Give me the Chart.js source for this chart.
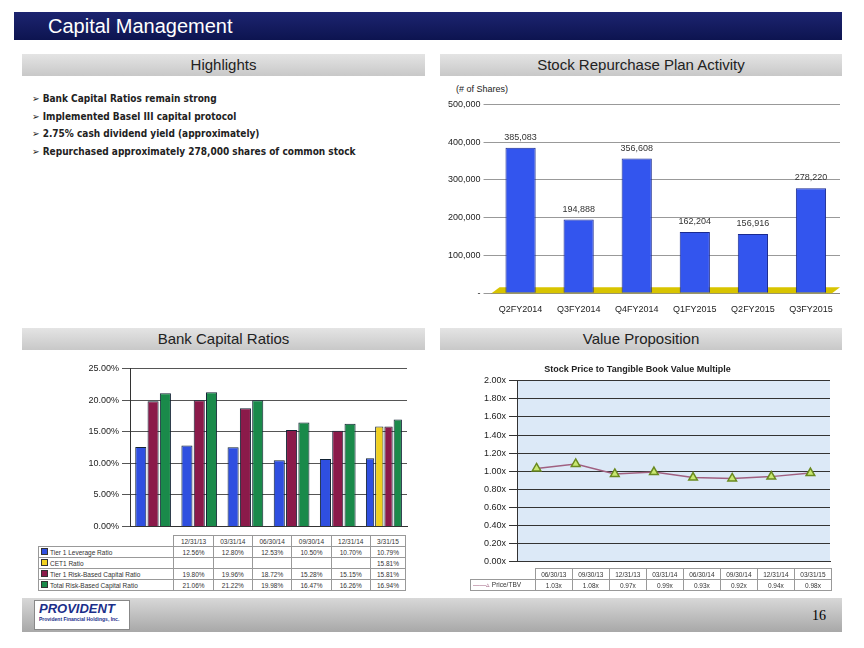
<!DOCTYPE html>
<html><head><meta charset="utf-8">
<script src="https://cdn.jsdelivr.net/npm/chart.js@4"></script>
<style>
body{margin:0;width:864px;height:648px;position:relative;background:#fff;font-family:"Liberation Sans",Arial,sans-serif;overflow:hidden}
.abs{position:absolute}
.bar{position:absolute;background:linear-gradient(#e4e4e4,#c8c8c8);text-align:center;font-size:15px;color:#222;line-height:22px}
table{border-collapse:collapse;font-size:6.5px;color:#333}
td{border:1px solid #999;text-align:center;padding:0 2px;height:10px}
td.l{text-align:left;white-space:nowrap}
</style></head><body>
<div class="abs" style="left:14px;top:12px;width:828px;height:28px;background:linear-gradient(#1c2470,#0d1450);color:#fff;font-size:20px;line-height:28px;padding-left:34px;box-sizing:border-box">Capital Management</div>
<div class="bar" style="left:22px;top:54px;width:403px">Highlights</div>
<div class="bar" style="left:440px;top:54px;width:402px">Stock Repurchase Plan Activity</div>
<div class="bar" style="left:22px;top:328px;width:403px">Bank Capital Ratios</div>
<div class="bar" style="left:440px;top:328px;width:402px">Value Proposition</div>
<div class="abs" style="left:32px;top:90px;font-size:10px;font-weight:bold;color:#222;line-height:17.5px;font-family:'DejaVu Sans Condensed','DejaVu Sans'">
➢ Bank Capital Ratios remain strong<br>➢ Implemented Basel III capital protocol<br>➢ 2.75% cash dividend yield (approximately)<br>➢ Repurchased approximately 278,000 shares of common stock</div>
<div class="abs" style="left:456px;top:84px;font-size:9px;color:#222">(# of Shares)</div>
<canvas id="c1" class="abs" style="left:445px;top:96px" width="395" height="222"></canvas>
<canvas id="c2" class="abs" style="left:30px;top:360px" width="385" height="175"></canvas>
<canvas id="c3" class="abs" style="left:445px;top:362px" width="395" height="208"></canvas>
<table class="abs" id="t2" style="left:38px;top:535px;width:368px"></table>
<table class="abs" id="t3" style="left:470px;top:568px;width:362px"></table>
<div class="abs" style="left:22px;top:598px;width:820px;height:34px;background:linear-gradient(#d8d8d8,#a8a8a8)"></div>
<div class="abs" style="left:34px;top:600px;width:96px;height:30px;background:#fff;border:1px solid #888;color:#1c2f8a;font-weight:bold;font-size:13px;font-style:italic;padding-left:4px;box-sizing:border-box">PROVIDENT<div style="font-size:5px;font-style:normal">Provident Financial Holdings, Inc.</div></div>
<div class="abs" style="left:812px;top:608px;font-size:14px;font-family:'Liberation Serif'">16</div>
<script>
const repQuarters = ["Q2FY2014","Q3FY2014","Q4FY2014","Q1FY2015","Q2FY2015","Q3FY2015"]
const repShares = [385083,194888,356608,162204,156916,278220]

const ratioDates = ["12/31/13","03/31/14","06/30/14","09/30/14","12/31/14","3/31/15"]
const tier1Lev = [12.56,12.80,12.53,10.50,10.70,10.79]
const cet1 = [null,null,null,null,null,15.81]
const tier1RB = [19.80,19.96,18.72,15.28,15.15,15.81]
const totalRB = [21.06,21.22,19.98,16.47,16.26,16.94]

const pbDates = ["06/30/13","09/30/13","12/31/13","03/31/14","06/30/14","09/30/14","12/31/14","03/31/15"]
const priceTBV = [1.03,1.08,0.97,0.99,0.93,0.92,0.94,0.98]

Chart.defaults.font.family = "Liberation Sans"
Chart.defaults.font.size = 9
Chart.defaults.color = "#222"

// value labels above bars + yellow floor
const repLabels = {
  id: "repLabels",
  beforeDatasetsDraw(c){
    const a = c.chartArea, ctx = c.ctx
    ctx.fillStyle = "#d8c400"
    ctx.beginPath()
    ctx.moveTo(a.left, a.bottom); ctx.lineTo(a.left+8, a.bottom-6); ctx.lineTo(a.right, a.bottom-6); ctx.lineTo(a.right-8, a.bottom); ctx.fill()
  },
  afterDatasetsDraw(c){
    const ctx = c.ctx
    ctx.font = "9px Liberation Sans"; ctx.fillStyle = "#333"; ctx.textAlign = "center"
    c.getDatasetMeta(0).data.forEach((b,i)=>{
      ctx.fillText(repShares[i].toLocaleString("en-US"), b.x, b.y-8)
    })
  }
}
new Chart("c1", {
  type: "bar",
  data: { labels: repQuarters, datasets: [{ data: repShares, backgroundColor: "#3355ee", borderColor: "#1a2a90", borderWidth: 1, barPercentage: 0.65 }] },
  options: {
    responsive: false, animation: false,
    plugins: { legend: { display: false } },
    scales: {
      x: { grid: { display: false }, ticks: { font: { size: 9 } } },
      y: { min: 0, max: 500000, ticks: { stepSize: 100000, callback: v => v === 0 ? "-" : v.toLocaleString("en-US") }, grid: { color: "#999" }, border: { display: false } }
    }
  },
  plugins: [repLabels]
})

new Chart("c2", {
  type: "bar",
  data: { labels: ratioDates, datasets: [
    { label: "Tier 1 Leverage Ratio", data: tier1Lev, backgroundColor: "#2f4fe0", borderColor: "#123", borderWidth: 1 },
    { label: "CET1 Ratio", data: cet1, backgroundColor: "#f0d020", borderColor: "#123", borderWidth: 1 },
    { label: "Tier 1 Risk-Based Capital Ratio", data: tier1RB, backgroundColor: "#8b1a4a", borderColor: "#123", borderWidth: 1 },
    { label: "Total Risk-Based Capital Ratio", data: totalRB, backgroundColor: "#1a8a4a", borderColor: "#123", borderWidth: 1 }
  ] },
  options: {
    responsive: false, animation: false,
    layout: { padding: { right: 8 } },
    plugins: { legend: { display: false } },
    datasets: { bar: { skipNull: true, categoryPercentage: 0.8, barPercentage: 0.9 } },
    scales: {
      x: { ticks: { display: false }, grid: { display: false }, border: { color: "#333" } },
      y: { min: 0, max: 25, afterFit: s => { s.width = 100 }, ticks: { stepSize: 5, callback: v => v.toFixed(2) + "%" }, grid: { color: "#555" }, border: { color: "#333" } }
    }
  }
})

const bgPlug = {
  id: "bgPlug",
  beforeDraw(c){ const a = c.chartArea; c.ctx.fillStyle = "#dce9f7"; c.ctx.fillRect(a.left, a.top, a.width, a.height) }
}
new Chart("c3", {
  type: "line",
  data: { labels: pbDates, datasets: [{ label: "Price/TBV", data: priceTBV, borderColor: "#a06080", borderWidth: 1.5, pointStyle: "triangle", pointRadius: 5, pointBackgroundColor: "#c8e870", pointBorderColor: "#6a8a20" }] },
  options: {
    responsive: false, animation: false,
    layout: { padding: { right: 10 } },
    plugins: { legend: { display: false }, title: { display: true, text: "Stock Price to Tangible Book Value Multiple", font: { size: 9, weight: "bold" }, padding: { top: 2, bottom: 6 } } },
    scales: {
      x: { offset: true, ticks: { display: false }, grid: { display: false }, border: { color: "#333" } },
      y: { min: 0, max: 2, afterFit: s => { s.width = 72 }, ticks: { stepSize: 0.2, callback: v => v.toFixed(2) + "x" }, grid: { color: "#333" }, border: { color: "#333" } }
    }
  },
  plugins: [bgPlug]
})

// data tables under the charts
const sw = c => '<span style="display:inline-block;width:5px;height:5px;background:' + c + ';border:1px solid #333;margin-right:2px"></span>'
let h = "<tr><td style='border:none'></td>" + ratioDates.map(d => "<td>" + d + "</td>").join("") + "</tr>"
const rows = [["Tier 1 Leverage Ratio", tier1Lev, "#2f4fe0"], ["CET1 Ratio", cet1, "#f0d020"], ["Tier 1 Risk-Based Capital Ratio", tier1RB, "#8b1a4a"], ["Total Risk-Based Capital Ratio", totalRB, "#1a8a4a"]]
rows.forEach(r => { h += "<tr><td class='l'>" + sw(r[2]) + r[0] + "</td>" + r[1].map(v => "<td>" + (v == null ? "" : v.toFixed(2) + "%") + "</td>").join("") + "</tr>" })
document.getElementById("t2").innerHTML = h
document.getElementById("t3").innerHTML = "<tr><td style='border:none'></td>" + pbDates.map(d => "<td>" + d + "</td>").join("") + "</tr><tr><td class='l'><span style='color:#a06080'>——▵</span> Price/TBV</td>" + priceTBV.map(v => "<td>" + v.toFixed(2) + "x</td>").join("") + "</tr>"
</script>
</body></html>
